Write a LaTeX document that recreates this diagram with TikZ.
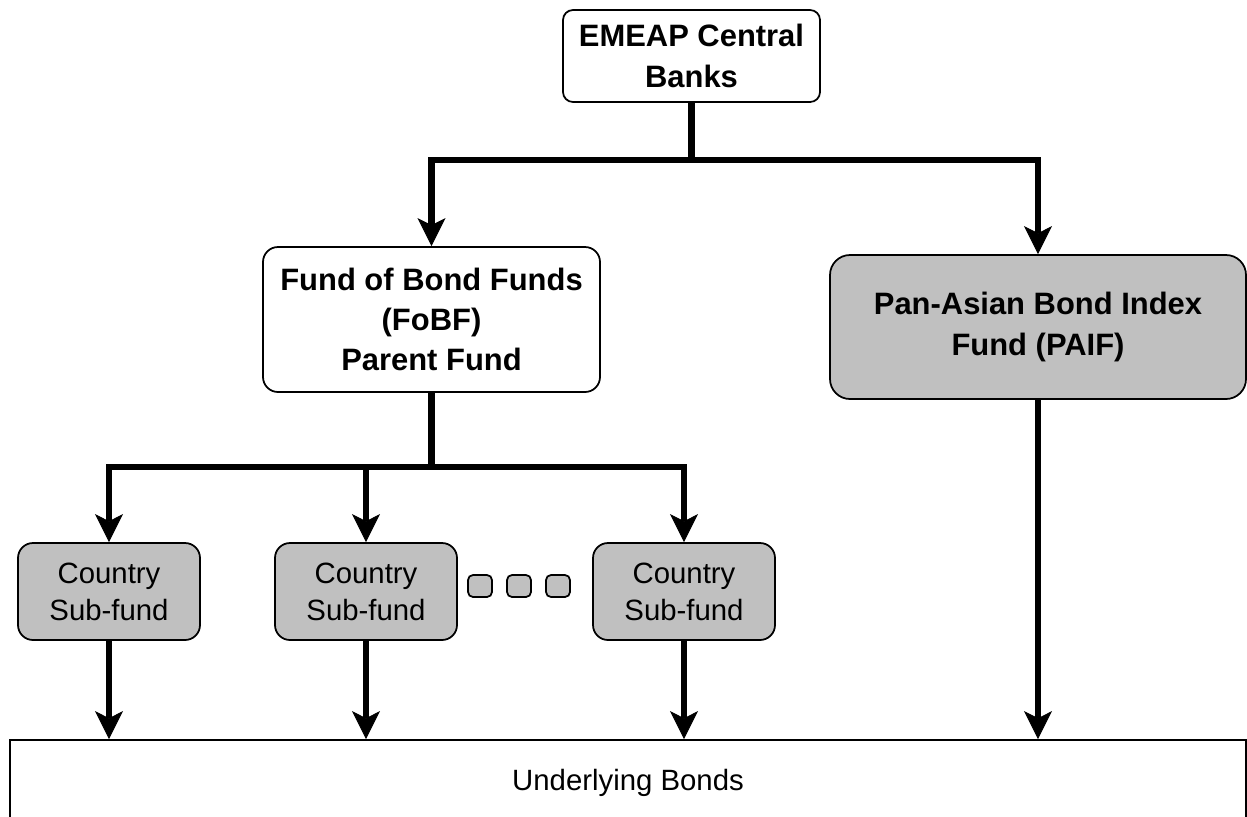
\documentclass[tikz,border=0pt]{standalone}
\usepackage{fontspec}
\setmainfont{Liberation Sans}
\usetikzlibrary{arrows.meta}
\definecolor{fundgrey}{HTML}{C0C0C0}

\begin{document}
\begin{tikzpicture}[> = {Stealth[length = 5.6mm, width = 5.6mm, inset = 1.4mm,
                    line width = 0.5pt]}, % arrow head style
                x = 0.2mm, y = -0.2mm, % one unit per pixel
                line width = 1.3mm % connector style
            ]

            \tikzstyle{every node}=[draw = black, line width = 0.35mm,
            align = center, inner sep = 1pt]
            \tikzstyle{boldbox}=[rounded corners = 3mm,
            font = \bfseries\fontsize{17.6}{23}\selectfont]
            \tikzstyle{subbox}=[fill = fundgrey, rounded corners = 3mm,
            minimum width = 36.4mm, minimum height = 19.4mm,
            font = \fontsize{16.7}{21}\selectfont]
            \tikzstyle{dotbox}=[fill = fundgrey, rounded corners = 1mm,
            minimum width = 4.8mm, minimum height = 4.4mm]

            \useasboundingbox (0,0) rectangle (1247,816);
            \clip (0,0) rectangle (1247,816);

            \node (cb) [boldbox, rounded corners = 2mm, minimum width = 51.4mm,
                minimum height = 18.4mm] at (691.5,56) {EMEAP Central\\Banks};
            \node (fobf) [boldbox, minimum width = 67.4mm, minimum height = 29mm]
            at (431.5,319.5) {Fund of Bond Funds\\(FoBF)\\Parent Fund};
            \node (paif) [boldbox, fill = fundgrey, rounded corners = 4mm,
                minimum width = 83.2mm, minimum height = 28.8mm] at (1038,327)
            {Pan-Asian Bond Index\\Fund (PAIF)};
            \node (sub1) [subbox] at (109,591.5) {Country\\Sub-fund};
            \node (sub2) [subbox] at (366,591.5) {Country\\Sub-fund};
            \node (sub3) [subbox] at (684,591.5) {Country\\Sub-fund};
            \node (dot1) [dotbox] at (480,586) {}; \node (dot2) [dotbox] at
            (519,586) {}; \node (dot3) [dotbox] at (558,586) {};
            \node (bonds) [minimum width = 247.2mm, minimum height = 17.2mm,
                font = \fontsize{16.7}{21}\selectfont] at (628,783)
            {Underlying Bonds};

            \coordinate (split1) at (691.5,160); \coordinate (split2) at
            (431.5,467);

            \draw (cb) -- (split1); \draw[->] (split1) -| (fobf); \draw[->]
            (split1) -| (paif); \draw (fobf) -- (split2); \draw[->] (split2)
            -| (sub1); \draw[->] (split2) -| (sub2); \draw[->] (split2) -|
            (sub3); \draw[->] (sub1) -- (sub1 |- bonds.north); \draw[->] (sub2)
            -- (sub2 |- bonds.north); \draw[->] (sub3) -- (sub3 |-
            bonds.north); \draw[->] (paif) -- (paif |- bonds.north);
\end{tikzpicture}
\end{document}
